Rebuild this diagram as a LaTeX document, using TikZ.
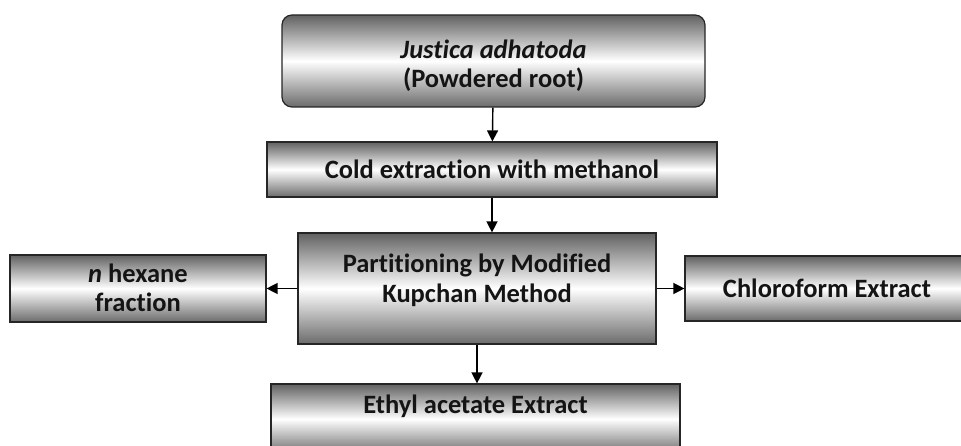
\documentclass[tikz,border=0pt]{standalone}
\usepackage{fontspec}
\setmainfont{Carlito}[Ligatures=NoCommon]
\usetikzlibrary{arrows.meta,calc,positioning}
\tikzset{arr/.style={line width=1.4pt, -{Triangle[length=11pt,width=11pt]}},
  stage/.style={draw=black!85, line width=1.2pt, top color=black!62, bottom color=black!58,
    middle color=white, align=center, inner sep=0pt, text=black!92,
    font=\bfseries\fontsize{26.5}{29.5}\selectfont}}

\begin{document}
\begin{tikzpicture}[x=1pt, y=-1pt]
  \clip (0,0) rectangle (961,446);
  \node[stage, rounded corners=10pt, minimum width=423pt, minimum height=92pt,
    text height=54pt, text depth=0pt] (root) at (493.5,61)
    {\textit{Justica adhatoda}\\(Powdered root)};
  \node[stage, minimum width=450pt, minimum height=55pt] (cold) at (492,169.5) {Cold extraction with methanol};
  \node[stage, minimum width=358pt, minimum height=111pt, text height=48pt, text depth=21pt] (part) at (477,288.5)
    {Partitioning by Modified\\Kupchan Method};
  \node[stage, minimum width=256pt, minimum height=67pt, text height=48pt, text depth=1pt] (hex) at (138,288.5)
    {\textit{n} hexane\\fraction};
  \node[stage, minimum width=284pt, minimum height=65pt] (chl) at (827,288.5) {Chloroform Extract};
  \node[stage, minimum width=409pt, minimum height=70pt, text height=16pt, text depth=28pt] (eth) at (475.5,419)
    {Ethyl acetate Extract};
  % flow downwards
  \draw[arr] (root) -- (cold);
  \draw[arr] (cold.south) -- (cold.south |- part.north);
  \draw[arr] (part.south) -- (part.south |- eth.north);
  % side fractions
  \draw[arr] (part) -- (hex);
  \draw[arr] (part) -- (chl);
\end{tikzpicture}
\end{document}
